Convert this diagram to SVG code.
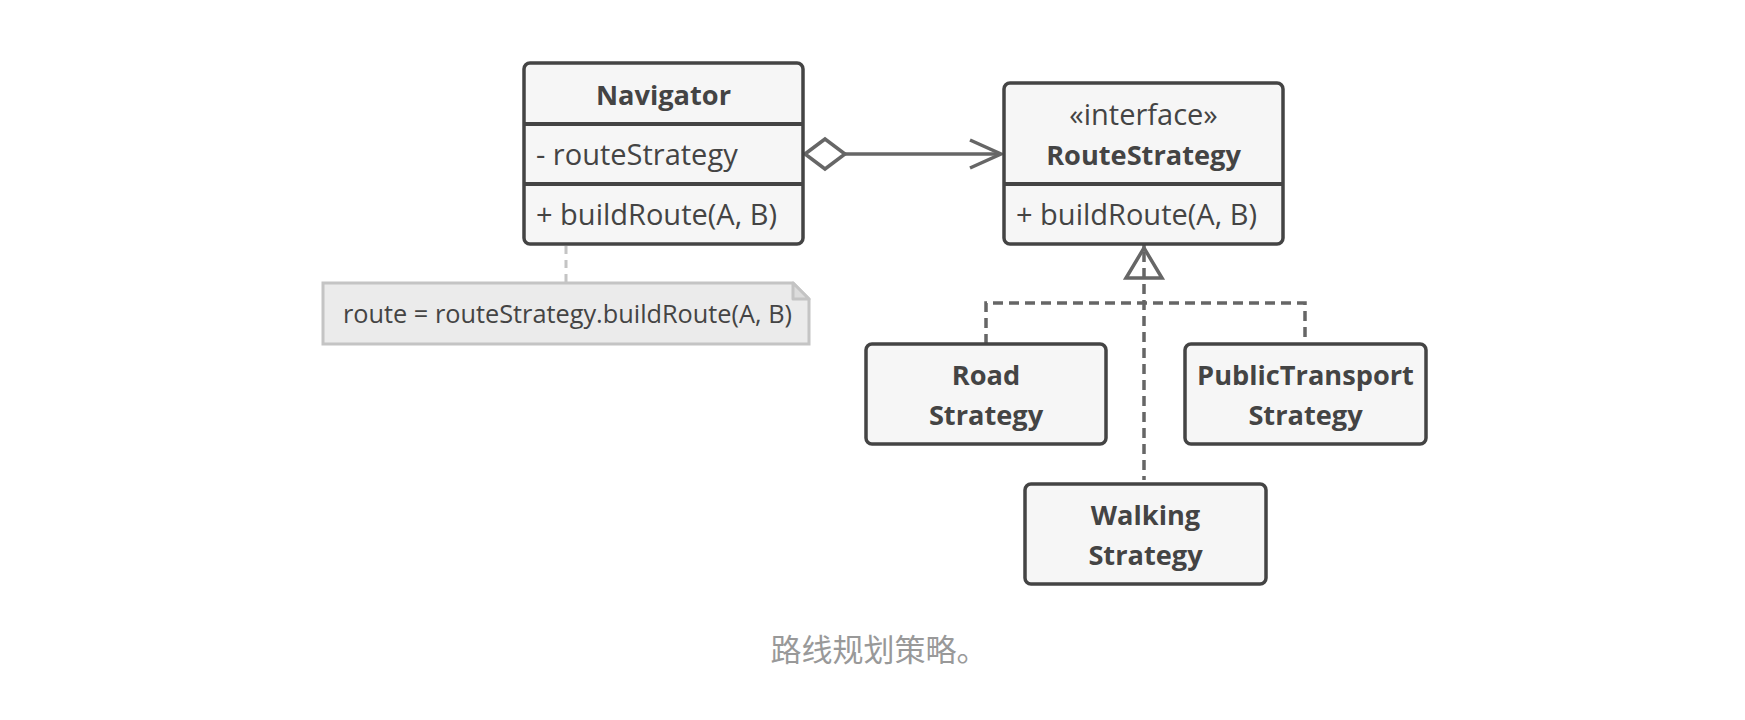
<svg xmlns="http://www.w3.org/2000/svg" width="1745" height="720" viewBox="0 0 1745 720">
<style>
.box{fill:#f6f6f6;stroke:#444;stroke-width:3.5}
.div{stroke:#444;stroke-width:4}
.t{font-family:"Open Sans","Noto Sans",sans-serif;font-size:29px;fill:#444}
.b{font-family:"Open Sans","Noto Sans",sans-serif;font-size:27.2px;font-weight:bold;fill:#444;text-anchor:middle}
.c{text-anchor:middle}
.conn{fill:none;stroke:#666;stroke-width:3.5}
.dash{fill:none;stroke:#666;stroke-width:3.5;stroke-dasharray:10 6}
.note{fill:#ebebeb;stroke:#c4c4c4;stroke-width:3}
.cap{font-family:"Noto Sans CJK SC",sans-serif;font-size:31px;fill:#999;text-anchor:middle}
</style>
<rect width="1745" height="720" fill="#fff"/>
<g id="connectors">
  <path class="conn" d="M845,154 H1001"/>
  <path class="conn" d="M970,140 L1001,154 L970,168"/>
  <path d="M805,154 L825,139 L845,154 L825,169 Z" fill="#fff" stroke="#666" stroke-width="3.5" stroke-linejoin="miter"/>
  <path d="M566,246 V283" fill="none" stroke="#c4c4c4" stroke-width="3" stroke-dasharray="8 6"/>
  <path class="conn" d="M1144,244 V248"/>
  <path class="dash" d="M1144,252 V480"/>
  <path class="dash" d="M986,344 V303 H1305 V344"/>
  <path d="M1144,248 L1162,278 H1126 Z" fill="none" stroke="#666" stroke-width="3.5" stroke-linejoin="miter"/>
</g>
<g id="navigator">
  <rect class="box" x="524" y="63" width="279" height="181" rx="6"/>
  <line class="div" x1="524" y1="124" x2="803" y2="124"/>
  <line class="div" x1="524" y1="184" x2="803" y2="184"/>
  <text class="b" x="663.5" y="105">Navigator</text>
  <text class="t" x="536" y="165">- routeStrategy</text>
  <text class="t" x="536" y="225">+ buildRoute(A, B)</text>
</g>
<g id="routestrategy">
  <rect class="box" x="1004" y="83" width="279" height="161" rx="6"/>
  <line class="div" x1="1004" y1="184" x2="1283" y2="184"/>
  <text class="t c" x="1143.5" y="125">«interface»</text>
  <text class="b" x="1143.5" y="165">RouteStrategy</text>
  <text class="t" x="1016" y="225">+ buildRoute(A, B)</text>
</g>
<g id="note">
  <path class="note" d="M323,283 H793 L809,299 V344 H323 Z"/>
  <path d="M793,283 V299 H809 Z" fill="#dcdcdc" stroke="#c4c4c4" stroke-width="3" stroke-linejoin="round"/>
  <text class="t" style="font-size:25.3px" x="343" y="323">route = routeStrategy.buildRoute(A, B)</text>
</g>
<g id="roadstrategy">
  <rect class="box" x="866" y="344" width="240" height="100" rx="6"/>
  <text class="b" x="986" y="385">Road</text>
  <text class="b" x="986" y="425">Strategy</text>
</g>
<g id="publictransportstrategy">
  <rect class="box" x="1185" y="344" width="241" height="100" rx="6"/>
  <text class="b" x="1305.5" y="385">PublicTransport</text>
  <text class="b" x="1305.5" y="425">Strategy</text>
</g>
<g id="walkingstrategy">
  <rect class="box" x="1025" y="484" width="241" height="100" rx="6"/>
  <text class="b" x="1145.5" y="525">Walking</text>
  <text class="b" x="1145.5" y="565">Strategy</text>
</g>
<text class="cap" x="879" y="661">路线规划策略。</text>
</svg>
